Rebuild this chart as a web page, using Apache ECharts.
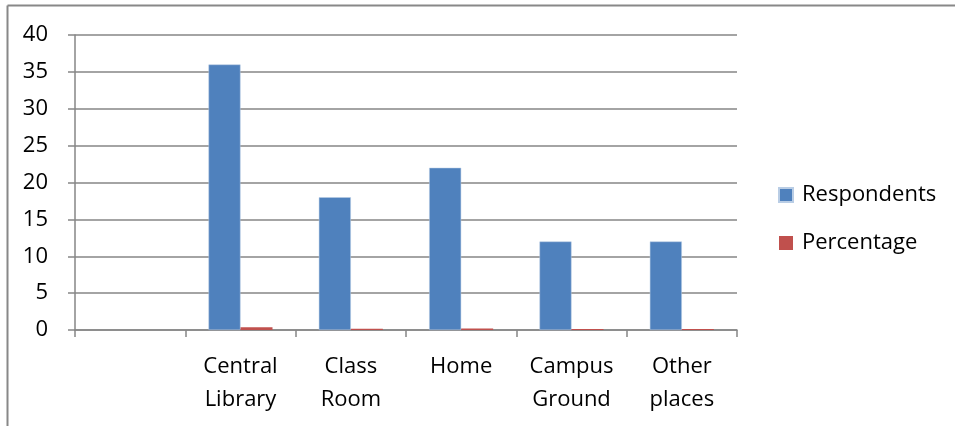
<!DOCTYPE html>
<html>
<head>
<meta charset="utf-8">
<script src="https://cdn.jsdelivr.net/npm/echarts@6/dist/echarts.min.js"></script>
<style>
html,body{margin:0;padding:0;background:#fff;}
#c{width:955px;height:426px;}
</style>
</head>
<body>
<div id="c"></div>
<script>
const categories = ['', 'Central\nLibrary', 'Class\nRoom', 'Home', 'Campus\nGround', 'Other\nplaces'];
const respondents = [null, 36, 18, 22, 12, 12];
const percentage = [null, 0.36, 0.18, 0.22, 0.12, 0.12];
const yTicks = {min: 0, max: 40, interval: 5};

const chart = echarts.init(document.getElementById('c'));
const font = '"Open Sans", "Noto Sans", sans-serif';
chart.setOption({
  animation: false,
  textStyle: {fontFamily: font},
  grid: {left: 75, right: 218, top: 35, bottom: 96},
  graphic: [
    {type: 'line', shape: {x1: 7.5, y1: 5.5, x2: 955, y2: 5.5}, style: {stroke: '#888', lineWidth: 2}},
    {type: 'line', shape: {x1: 7.5, y1: 5.5, x2: 7.5, y2: 426}, style: {stroke: '#888', lineWidth: 2}}
  ],
  legend: {
    orient: 'vertical', left: 773, top: 175,
    itemWidth: 14, itemHeight: 14, itemGap: 18,
    icon: 'rect',
    textStyle: {fontSize: 22, color: '#000', fontFamily: font, lineHeight: 30, padding: [0, 0, 0, 4]},
    data: ['Respondents', 'Percentage']
  },
  xAxis: {
    type: 'category', data: categories, boundaryGap: true,
    axisLine: {lineStyle: {color: '#868686', width: 1.5}},
    axisTick: {show: true, length: 7, lineStyle: {color: '#868686', width: 1.5}},
    axisLabel: {fontSize: 22, color: '#000', lineHeight: 33, margin: 20, interval: 0, fontFamily: font}
  },
  yAxis: {
    type: 'value', min: yTicks.min, max: yTicks.max, interval: yTicks.interval,
    axisLine: {show: true, lineStyle: {color: '#868686', width: 1.5}},
    axisTick: {show: true, length: 7, lineStyle: {color: '#868686', width: 1.5}},
    axisLabel: {fontSize: 22, color: '#000', margin: 27, fontFamily: font},
    splitLine: {lineStyle: {color: '#868686', width: 1.5}}
  },
  series: [
    {name: 'Respondents', type: 'bar', data: respondents, barWidth: 32, barGap: '0%',
     itemStyle: {color: '#4F81BD', borderColor: '#B9CDE5', borderWidth: 0.5}},
    {name: 'Percentage', type: 'bar', data: percentage, barWidth: 32,
     itemStyle: {color: '#C0504D'}}
  ]
});
</script>
</body>
</html>
